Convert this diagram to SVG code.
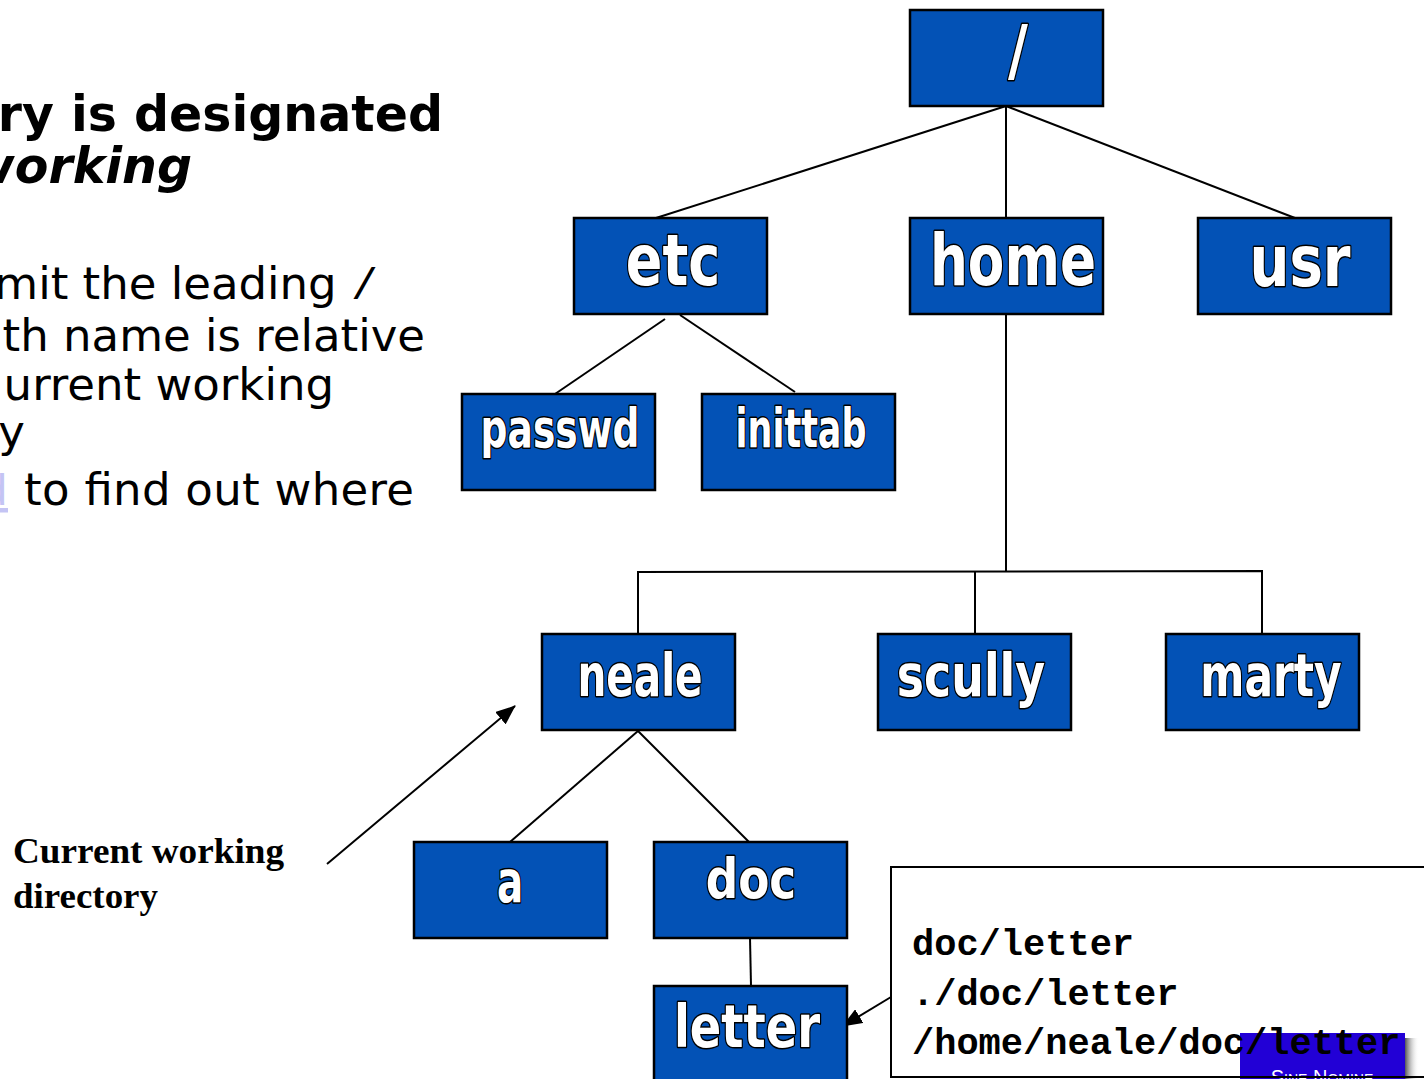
<svg xmlns="http://www.w3.org/2000/svg" width="1424" height="1079" viewBox="0 0 1424 1079">
<style>
.box{fill:#0352B6;stroke:#000;stroke-width:2.5}
.lbl{font-family:"DejaVu Sans",Verdana,sans-serif;font-weight:bold;fill:#fff;stroke:#000;stroke-width:3;paint-order:stroke;stroke-linejoin:round;text-anchor:middle}
.con{stroke:#000;stroke-width:2;fill:none}
.body{font-family:"DejaVu Sans",Verdana,sans-serif;font-size:45px;fill:#000;text-anchor:end}
.head{font-family:"DejaVu Sans",Verdana,sans-serif;font-size:49px;font-weight:bold;fill:#000;text-anchor:end}
.mono{font-family:"Liberation Mono","Courier New",monospace;font-weight:bold;font-size:37px;fill:#000}
.serif{font-family:"Liberation Serif","Times New Roman",serif;font-weight:bold;font-size:35px;fill:#000}
</style>
<defs>
<marker id="arr" markerUnits="userSpaceOnUse" markerWidth="20" markerHeight="16" refX="19" refY="8" orient="auto">
<path d="M0,0 L20,8 L0,16 Z" fill="#000"/>
</marker>
<linearGradient id="shadow" x1="0" x2="1" y1="0" y2="0">
<stop offset="0" stop-color="#555"/>
<stop offset="1" stop-color="#fff" stop-opacity="0"/>
</linearGradient>
</defs>

<g id="text-left">
<text class="head" x="443" y="131">ry is designated</text>
<text class="head" x="192" y="183" font-style="italic">working</text>
<text class="body" x="378" y="299">mit the leading <tspan font-family="Liberation Mono,monospace">/</tspan></text>
<text class="body" x="425" y="351">th name is relative</text>
<text class="body" x="334" y="400">urrent working</text>
<text class="body" x="25" y="447">y</text>
<text class="body" x="414" y="505" textLength="390" lengthAdjust="spacing">to find out where</text>
<text x="8" y="505" font-family="Liberation Mono,monospace" font-size="45" fill="#C4C4F4" text-anchor="end" text-decoration="underline">pwd</text>
</g>

<g id="connectors">
<line class="con" x1="1006" y1="106" x2="656" y2="218"/>
<line class="con" x1="1006" y1="106" x2="1006" y2="218"/>
<line class="con" x1="1006" y1="106" x2="1295" y2="218"/>
<line class="con" x1="665" y1="319" x2="555" y2="394"/>
<line class="con" x1="680" y1="315" x2="795" y2="392"/>
<line class="con" x1="1006" y1="314" x2="1006" y2="571"/>
<polyline class="con" points="638,634 638,572 1262,571 1262,634"/>
<line class="con" x1="975" y1="571" x2="975" y2="634"/>
<line class="con" x1="638" y1="731" x2="510" y2="842"/>
<line class="con" x1="638" y1="731" x2="749" y2="842"/>
<line class="con" x1="750" y1="938" x2="751" y2="986"/>
<line class="con" x1="327" y1="864" x2="515" y2="706" marker-end="url(#arr)"/>
<line class="con" x1="891" y1="997" x2="843" y2="1026" marker-end="url(#arr)"/>
</g>

<g id="node-root"><rect class="box" x="910" y="10" width="193" height="96"/><text class="lbl" font-size="68" transform="translate(1018,74) scale(0.8,1)">/</text></g>
<g id="node-etc"><rect class="box" x="574" y="218" width="193" height="96"/><text class="lbl" font-size="72" transform="translate(673,285) scale(0.75,1)">etc</text></g>
<g id="node-home"><rect class="box" x="910" y="218" width="193" height="96"/><text class="lbl" font-size="72" transform="translate(1013,285) scale(0.74,1)">home</text></g>
<g id="node-usr"><rect class="box" x="1198" y="218" width="193" height="96"/><text class="lbl" font-size="72" transform="translate(1300,286) scale(0.78,1)">usr</text></g>
<g id="node-passwd"><rect class="box" x="462" y="394" width="193" height="96"/><text class="lbl" font-size="53" transform="translate(560,447) scale(0.71,1)">passwd</text></g>
<g id="node-inittab"><rect class="box" x="702" y="394" width="193" height="96"/><text class="lbl" font-size="53" transform="translate(801,447) scale(0.66,1)">inittab</text></g>
<g id="node-neale"><rect class="box" x="542" y="634" width="193" height="96"/><text class="lbl" font-size="58" transform="translate(640,696) scale(0.7,1)">neale</text></g>
<g id="node-scully"><rect class="box" x="878" y="634" width="193" height="96"/><text class="lbl" font-size="58" transform="translate(971,696) scale(0.79,1)">scully</text></g>
<g id="node-marty"><rect class="box" x="1166" y="634" width="193" height="96"/><text class="lbl" font-size="58" transform="translate(1271,696) scale(0.73,1)">marty</text></g>
<g id="node-a"><rect class="box" x="414" y="842" width="193" height="96"/><text class="lbl" font-size="58" transform="translate(510,902) scale(0.67,1)">a</text></g>
<g id="node-doc"><rect class="box" x="654" y="842" width="193" height="96"/><text class="lbl" font-size="56" transform="translate(751,898) scale(0.81,1)">doc</text></g>
<g id="node-letter"><rect class="box" x="654" y="986" width="193" height="100"/><text class="lbl" font-size="58" transform="translate(747,1047) scale(0.8,1)">letter</text></g>

<g id="cwd-label">
<text class="serif" x="13" y="863" textLength="271" lengthAdjust="spacingAndGlyphs">Current working</text>
<text class="serif" x="13" y="908" textLength="145" lengthAdjust="spacingAndGlyphs">directory</text>
</g>

<g id="paths-box">
<rect x="891" y="867" width="560" height="210" fill="#fff" stroke="#000" stroke-width="2"/>
<rect x="1405" y="1038" width="14" height="45" fill="url(#shadow)"/>
<rect x="1240" y="1033" width="165" height="50" fill="#2200D6"/>
<text x="1322" y="1084" text-anchor="middle" font-family="Liberation Sans,Arial,sans-serif" font-size="20" font-variant="small-caps" fill="#fff">Sine Nomine</text>
<text class="mono" x="912" y="955">doc/letter</text>
<text class="mono" x="912" y="1005">./doc/letter</text>
<text class="mono" x="912" y="1054">/home/neale/doc/letter</text>
<line x1="891" y1="1077" x2="1424" y2="1077" stroke="#000" stroke-width="2"/>
</g>
</svg>
